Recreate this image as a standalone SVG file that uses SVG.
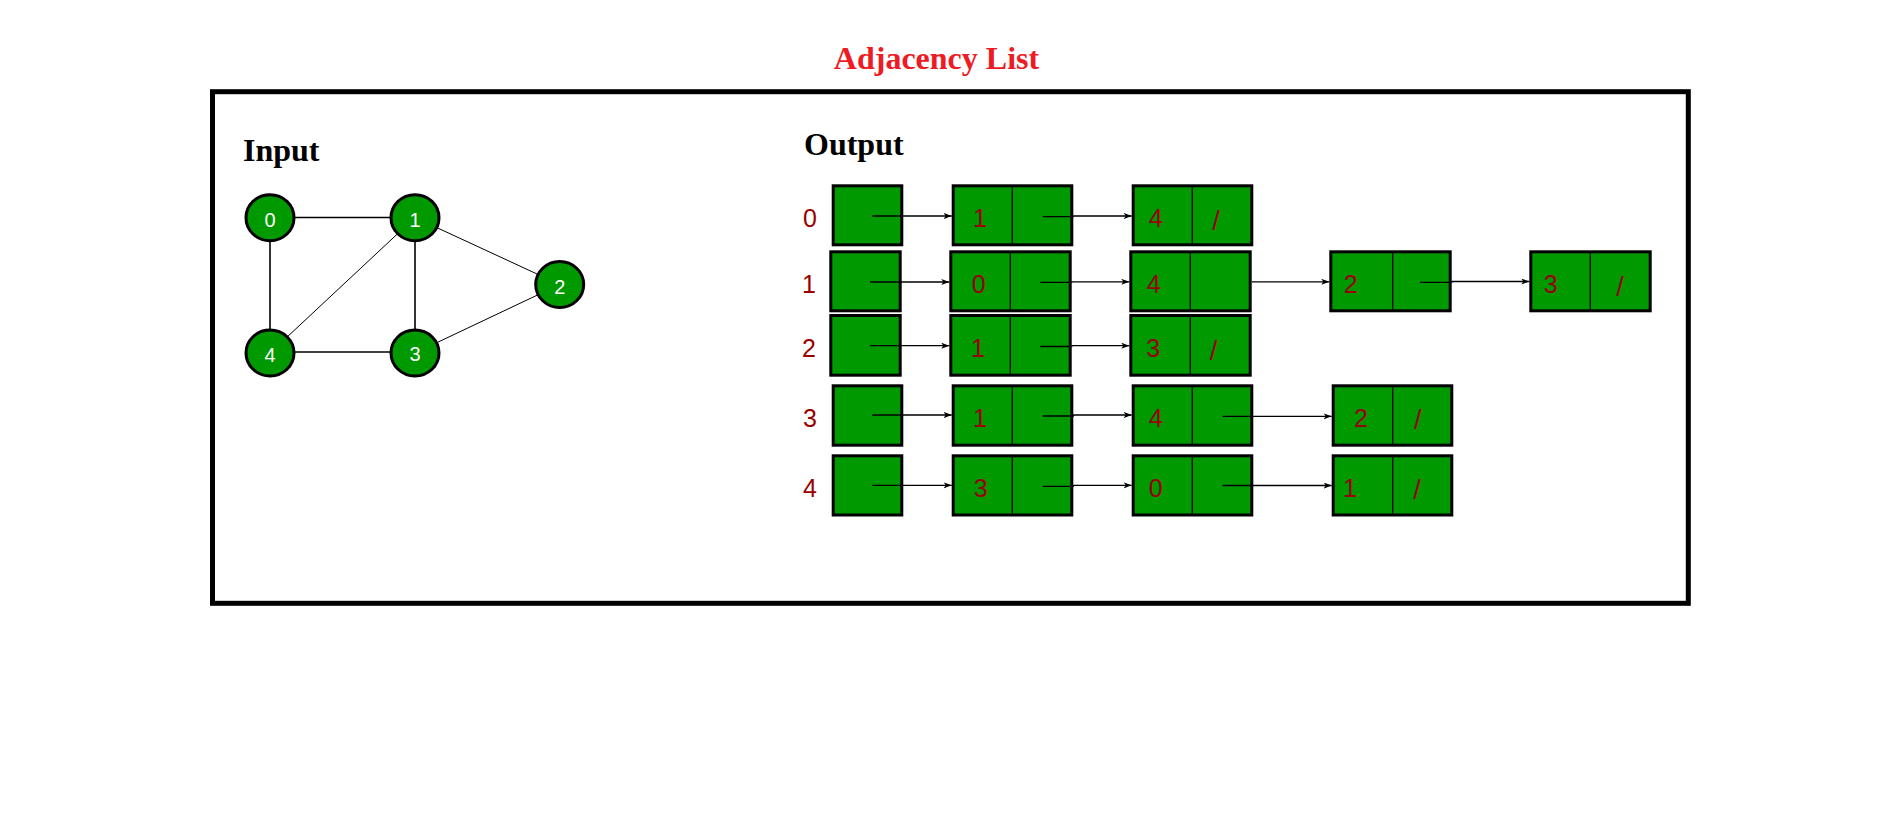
<svg xmlns="http://www.w3.org/2000/svg" width="1904" height="832" viewBox="0 0 1904 832">
<defs>
<marker id="ah" markerUnits="userSpaceOnUse" markerWidth="9" markerHeight="7" refX="8" refY="3" orient="auto">
<path d="M0,0 L8,3 L0,6 L2,3 z" fill="#000"/>
</marker>
</defs>
<style>
.t{font-family:"Liberation Serif","Times New Roman",serif;font-weight:bold;font-size:32px;fill:#000}
.title{fill:#ed1c24;text-anchor:middle}
.lbl{font-family:"Liberation Sans",Arial,sans-serif;font-size:25px;fill:#990000;text-anchor:middle}
.sl{font-family:"Liberation Sans",Arial,sans-serif;font-size:27px;fill:#990000;text-anchor:middle}
.cell{fill:#009900;stroke:#000;stroke-width:3}
.dv{stroke:#000;stroke-width:1.3}
.gn{fill:#009900;stroke:#000;stroke-width:3}
.gt{font-family:"Liberation Sans",Arial,sans-serif;font-size:20px;fill:#fff;text-anchor:middle}
.e{stroke:#000;stroke-width:1.6}
.ed{stroke:#000;stroke-width:1}
.a{stroke:#000;stroke-width:1.3;fill:none;marker-end:url(#ah)}
</style>
<rect width="1904" height="832" fill="#fff"/>
<text class="t title" x="936.5" y="69">Adjacency List</text>
<rect id="frame" x="212.5" y="91.7" width="1475.8" height="511.6" fill="none" stroke="#000" stroke-width="5"/>
<text id="input-label" class="t" x="243" y="161">Input</text>
<text id="output-label" class="t" x="804" y="155">Output</text>

<g id="graph-edges">
<line class="e" x1="270" y1="217.5" x2="415" y2="217.5"/>
<line class="e" x1="270" y1="217.5" x2="270" y2="353"/>
<line class="e" x1="415" y1="217.5" x2="415" y2="353"/>
<line class="e" x1="270" y1="352" x2="415" y2="352"/>
<line class="ed" x1="415" y1="217.5" x2="270" y2="353"/>
<line class="ed" x1="415" y1="217.5" x2="559.7" y2="284.5"/>
<line class="ed" x1="415" y1="353" x2="559.7" y2="284.5"/>
</g>
<g id="g0"><ellipse class="gn" cx="270" cy="217.7" rx="24" ry="23"/><text class="gt" x="270" y="227">0</text></g>
<g id="g1"><ellipse class="gn" cx="415" cy="217.7" rx="24" ry="23"/><text class="gt" x="415" y="227">1</text></g>
<g id="g2"><ellipse class="gn" cx="559.7" cy="284.5" rx="24" ry="23"/><text class="gt" x="559.7" y="294">2</text></g>
<g id="g3"><ellipse class="gn" cx="415" cy="353" rx="24" ry="23"/><text class="gt" x="415" y="361">3</text></g>
<g id="g4"><ellipse class="gn" cx="270" cy="353" rx="24" ry="23"/><text class="gt" x="270" y="361.5">4</text></g>

<g id="row-labels">
<text class="lbl" x="810" y="227">0</text>
<text class="lbl" x="809" y="293">1</text>
<text class="lbl" x="809" y="357">2</text>
<text class="lbl" x="810" y="426.5">3</text>
<text class="lbl" x="810" y="496.5">4</text>
</g>

<g id="row0">
<g id="h0"><rect class="cell" x="833.2" y="185.8" width="68.6" height="59"/></g>
<g id="r0n1"><rect class="cell" x="953.2" y="185.8" width="118.6" height="59"/><line class="dv" x1="1012.3" y1="185.8" x2="1012.3" y2="244.8"/><text class="lbl" x="980" y="227">1</text></g>
<g id="r0n4"><rect class="cell" x="1133.2" y="185.8" width="118.6" height="59"/><line class="dv" x1="1192.3" y1="185.8" x2="1192.3" y2="244.8"/><text class="lbl" x="1155.7" y="227">4</text><text class="sl" x="1216" y="229.5">/</text></g>
</g>

<g id="row1">
<g id="h1"><rect class="cell" x="830.8" y="251.8" width="69.4" height="59"/></g>
<g id="r1n0"><rect class="cell" x="950.8" y="251.8" width="119.4" height="59"/><line class="dv" x1="1010.3" y1="251.8" x2="1010.3" y2="310.8"/><text class="lbl" x="978.7" y="293">0</text></g>
<g id="r1n4"><rect class="cell" x="1130.8" y="251.8" width="119.4" height="59"/><line class="dv" x1="1190.3" y1="251.8" x2="1190.3" y2="310.8"/><text class="lbl" x="1153.7" y="293">4</text></g>
<g id="r1n2"><rect class="cell" x="1330.8" y="251.8" width="119.4" height="59"/><line class="dv" x1="1392.7" y1="251.8" x2="1392.7" y2="310.8"/><text class="lbl" x="1350.7" y="293">2</text></g>
<g id="r1n3"><rect class="cell" x="1530.8" y="251.8" width="119.4" height="59"/><line class="dv" x1="1590.3" y1="251.8" x2="1590.3" y2="310.8"/><text class="lbl" x="1550.7" y="293">3</text><text class="sl" x="1620" y="295.5">/</text></g>
</g>

<g id="row2">
<g id="h2"><rect class="cell" x="830.8" y="315.5" width="69.4" height="59.7"/></g>
<g id="r2n1"><rect class="cell" x="950.8" y="315.5" width="119.4" height="59.7"/><line class="dv" x1="1010.3" y1="315.5" x2="1010.3" y2="375.2"/><text class="lbl" x="978" y="357">1</text></g>
<g id="r2n3"><rect class="cell" x="1130.8" y="315.5" width="119.4" height="59.7"/><line class="dv" x1="1190.3" y1="315.5" x2="1190.3" y2="375.2"/><text class="lbl" x="1153.3" y="357">3</text><text class="sl" x="1213.5" y="359.5">/</text></g>
</g>

<g id="row3">
<g id="h3"><rect class="cell" x="833.2" y="385.8" width="68.6" height="59.4"/></g>
<g id="r3n1"><rect class="cell" x="953.2" y="385.8" width="118.6" height="59.4"/><line class="dv" x1="1012.3" y1="385.8" x2="1012.3" y2="445.2"/><text class="lbl" x="980" y="426.5">1</text></g>
<g id="r3n4"><rect class="cell" x="1133.2" y="385.8" width="118.6" height="59.4"/><line class="dv" x1="1192.3" y1="385.8" x2="1192.3" y2="445.2"/><text class="lbl" x="1155.7" y="426.5">4</text></g>
<g id="r3n2"><rect class="cell" x="1333.2" y="385.8" width="118.6" height="59.4"/><line class="dv" x1="1392.7" y1="385.8" x2="1392.7" y2="445.2"/><text class="lbl" x="1361" y="426.5">2</text><text class="sl" x="1417.7" y="429">/</text></g>
</g>

<g id="row4">
<g id="h4"><rect class="cell" x="833.2" y="455.8" width="68.6" height="59.2"/></g>
<g id="r4n3"><rect class="cell" x="953.2" y="455.8" width="118.6" height="59.2"/><line class="dv" x1="1012.3" y1="455.8" x2="1012.3" y2="515"/><text class="lbl" x="980.7" y="496.5">3</text></g>
<g id="r4n0"><rect class="cell" x="1133.2" y="455.8" width="118.6" height="59.2"/><line class="dv" x1="1192.3" y1="455.8" x2="1192.3" y2="515"/><text class="lbl" x="1155.7" y="496.5">0</text></g>
<g id="r4n1"><rect class="cell" x="1333.2" y="455.8" width="118.6" height="59.2"/><line class="dv" x1="1392.7" y1="455.8" x2="1392.7" y2="515"/><text class="lbl" x="1350" y="496.5">1</text><text class="sl" x="1417" y="499">/</text></g>
</g>

<g id="connectors">
<path class="a" d="M872.3,216 H951.7"/>
<path class="a" d="M1042.7,216.7 H1073 L1073.5,216 H1131.7"/>
<path class="a" d="M870,282 H949.3"/>
<path class="a" d="M1040.3,282.3 H1071.7 L1072,281.8 H1129.3"/>
<path class="a" d="M1251.7,281.8 H1329.3"/>
<path class="a" d="M1420,282.3 H1451.7 L1452,281.5 H1529.3"/>
<path class="a" d="M870,345.7 H949.3"/>
<path class="a" d="M1040.3,346.5 H1071.7 L1072,345.7 H1129.3"/>
<path class="a" d="M872.3,415 H951.7"/>
<path class="a" d="M1042.7,416 H1073.3 L1073.6,415 H1131.7"/>
<path class="a" d="M1222.7,416.3 H1331.7"/>
<path class="a" d="M872.3,485.3 H951.7"/>
<path class="a" d="M1042.7,486.3 H1073.3 L1073.6,485.3 H1131.7"/>
<path class="a" d="M1222.7,485.5 H1331.7"/>
</g>
</svg>
